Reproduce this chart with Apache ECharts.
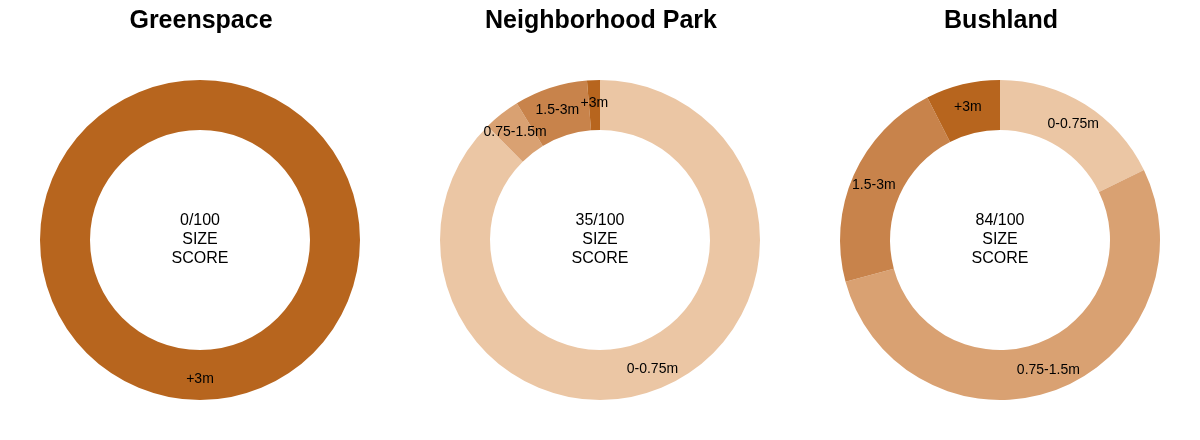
<!DOCTYPE html>
<html>
<head>
<meta charset="utf-8">
<script src="https://cdn.jsdelivr.net/npm/echarts@6/dist/echarts.min.js"></script>
<style>html,body{margin:0;padding:0;background:#fff;}#c{width:1200px;height:440px;}</style>
</head>
<body>
<div id="c"></div>
<script>
var chartTitles = ['Greenspace', 'Neighborhood Park', 'Bushland'];
var scores = [0, 35, 84];
var categories = ['0-0.75m', '0.75-1.5m', '1.5-3m', '+3m'];
var greenspaceValues = [0, 0, 0, 100];
var neighborhoodParkValues = [87.6, 3.7, 7.4, 1.3];
var bushlandValues = [17.8, 53.0, 21.7, 7.5];
var colors = ['#EBC6A4', '#D9A172', '#C8834B', '#B7651E'];

var allValues = [greenspaceValues, neighborhoodParkValues, bushlandValues];
var centersX = [200, 600, 1000];
var centerY = 240;

var chart = echarts.init(document.getElementById('c'), null, {renderer: 'canvas'});
var font = 'Liberation Sans, Arial, Helvetica, sans-serif';

var series = allValues.map(function (vals, i) {
  var data = [];
  vals.forEach(function (v, k) {
    if (v > 0) data.push({name: categories[k], value: v, itemStyle: {color: colors[k]}});
  });
  return {
    type: 'pie',
    center: [centersX[i], centerY],
    radius: [110, 160],
    startAngle: 90,
    clockwise: true,
    avoidLabelOverlap: false,
    animation: false,
    silent: true,
    itemStyle: {borderWidth: 0},
    label: {
      show: true,
      position: 'inside',
      formatter: '{b}',
      color: '#000',
      fontSize: 14,
      fontFamily: font,
      offset: [0, 1]
    },
    labelLine: {show: false},
    emphasis: {disabled: true},
    data: data
  };
});

var graphics = [];
chartTitles.forEach(function (t, i) {
  graphics.push({
    type: 'text',
    x: centersX[i] + 1,
    y: 21,
    style: {
      text: t,
      fill: '#000',
      font: 'bold 25px ' + font,
      align: 'center',
      verticalAlign: 'middle'
    }
  });
});
scores.forEach(function (s, i) {
  graphics.push({
    type: 'text',
    x: centersX[i],
    y: centerY,
    style: {
      text: s + '/100\nSIZE\nSCORE',
      fill: '#000',
      font: '16px ' + font,
      lineHeight: 19,
      align: 'center',
      verticalAlign: 'middle'
    }
  });
});

chart.setOption({
  backgroundColor: '#fff',
  animation: false,
  graphic: graphics,
  series: series
});
</script>
</body>
</html>
